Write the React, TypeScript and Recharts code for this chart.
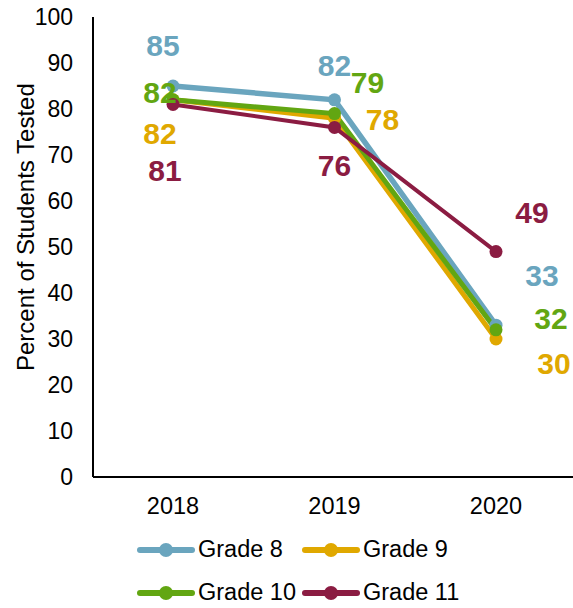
import React from "react"
import { LineChart, Line, XAxis, YAxis, LabelList } from "recharts"

const years = ["2018", "2019", "2020"]
const grade8 = [85, 82, 33]
const grade9 = [82, 78, 30]
const grade10 = [82, 79, 32]
const grade11 = [81, 76, 49]
const yTicks = [0, 10, 20, 30, 40, 50, 60, 70, 80, 90, 100]

const data = years.map((year, i) => ({
  year,
  g8: grade8[i],
  g9: grade9[i],
  g10: grade10[i],
  g11: grade11[i],
}))

// label placement around each point (dx, dy), by year
const labelOffsets: Record<string, [number, number][]> = {
  g8: [[-10, -41], [0, -35], [46, -50]],
  g9: [[-13, 33], [48, 1], [58, 24]],
  g10: [[-13, -8], [33, -31], [55, -12]],
  g11: [[-8, 66], [0, 38], [36, -39]],
}

const series = [
  { key: "g8", name: "Grade 8", color: "#6AA5BE", width: 5.5 },
  { key: "g9", name: "Grade 9", color: "#E0A800", width: 5 },
  { key: "g10", name: "Grade 10", color: "#62A612", width: 5 },
  { key: "g11", name: "Grade 11", color: "#8B1C42", width: 4 },
]

const font = "'Liberation Sans', Arial, sans-serif"

function makeLabel(key: string, color: string) {
  return (props: any) => {
    const { x, y, value, index } = props
    const [dx, dy] = labelOffsets[key][index]
    return (
      <text
        x={x + dx}
        y={y + dy}
        dy="0.36em"
        textAnchor="middle"
        fill={color}
        fontSize={30}
        fontWeight="bold"
        fontFamily={font}
      >
        {value}
      </text>
    )
  }
}

function LegendItem({ name, color }: { name: string; color: string }) {
  return (
    <div style={{ display: "flex", alignItems: "center", width: 165 }}>
      <svg width={62} height={16}>
        <line x1={4} y1={8} x2={56} y2={8} stroke={color} strokeWidth={6} strokeLinecap="round" />
        <circle cx={30} cy={8} r={7} fill={color} />
      </svg>
      <span style={{ fontSize: 23.5, color: "#000" }}>{name}</span>
    </div>
  )
}

export default function App() {
  return (
    <div style={{ position: "absolute", left: 0, top: 0, width: 573, height: 608, fontFamily: font, background: "#fff" }}>
      <LineChart width={573} height={608} data={data} margin={{ top: 17, right: -3, left: 0, bottom: 91 }}>
        <XAxis
          dataKey="year"
          height={40}
          padding={{ left: 80, right: 80 }}
          axisLine={{ stroke: "#000", strokeWidth: 2 }}
          tickLine={false}
          tickSize={0}
          tickMargin={20}
          tick={{ fill: "#000", fontSize: 23.5, fontFamily: font }}
        />
        <YAxis
          width={93}
          domain={[0, 100]}
          ticks={yTicks}
          interval={0}
          axisLine={{ stroke: "#000", strokeWidth: 2 }}
          tickLine={false}
          tickSize={0}
          tickMargin={20}
          tick={{ fill: "#000", fontSize: 23, fontFamily: font }}
          label={{
            value: "Percent of Students Tested",
            angle: -90,
            position: "insideLeft",
            dx: 20,
            dy: 124,
            style: { fill: "#000", fontSize: 24, fontFamily: font },
          }}
        />
        {series.map((s) => (
          <Line
            key={s.key}
            dataKey={s.key}
            name={s.name}
            stroke={s.color}
            strokeWidth={s.width}
            dot={{ r: 6.5, fill: s.color, stroke: s.color, strokeWidth: 0 }}
            activeDot={false}
            isAnimationActive={false}
          >
            <LabelList dataKey={s.key} content={makeLabel(s.key, s.color)} />
          </Line>
        ))}
      </LineChart>
      <div
        style={{
          position: "absolute",
          left: 136,
          top: 536,
          width: 340,
          display: "flex",
          flexWrap: "wrap",
          rowGap: 16,
          lineHeight: "27px",
        }}
      >
        {series.map((s) => (
          <LegendItem key={s.key} name={s.name} color={s.color} />
        ))}
      </div>
    </div>
  )
}
